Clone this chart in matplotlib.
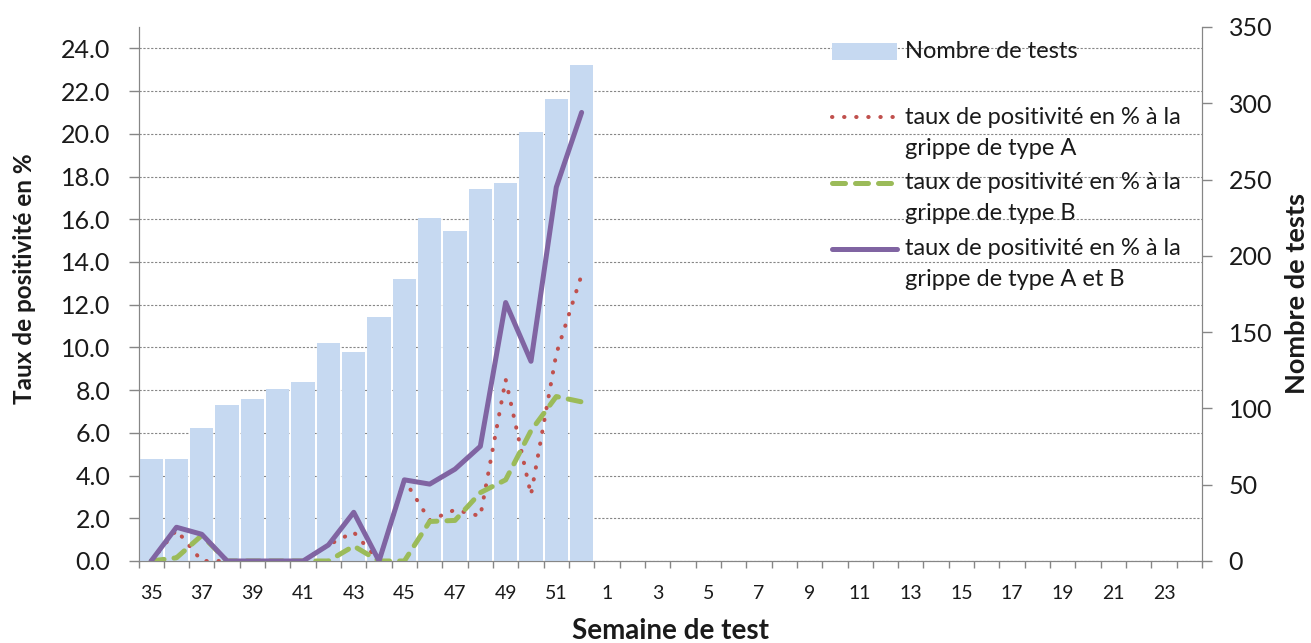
import matplotlib
matplotlib.use("Agg")
import matplotlib.pyplot as plt
from matplotlib.legend_handler import HandlerLine2D, HandlerPatch
from matplotlib.transforms import Affine2D

plt.rcParams['font.family'] = ['Lato', 'DejaVu Sans']

# ---------- données ----------
semaines = [str(s) for s in list(range(35, 53)) + list(range(1, 25))]
nb_tests = [67, 67, 87, 102, 106, 113, 117, 143, 137, 160, 185, 225, 216, 244, 248, 281, 303, 325]
taux_A = [0, 1.45, 0, 0, 0, 0, 0, 0.75, 1.35, 0, 3.8, 1.9, 2.4, 2.1, 8.5, 3.1, 9.7, 13.4]
taux_B = [0, 0.15, 1.2, 0, 0, 0, 0, 0, 0.7, 0, 0, 1.85, 1.9, 3.2, 3.8, 6.1, 7.7, 7.45]
taux_AB = [0, 1.58, 1.25, 0, 0, 0, 0, 0.75, 2.28, 0, 3.8, 3.6, 4.3, 5.37, 12.1, 9.35, 17.5, 21.0]

lab_tests = "Nombre de tests\n"
lab_A = "taux de positivité en % à la\ngrippe de type A"
lab_B = "taux de positivité en % à la\ngrippe de type B"
lab_AB = "taux de positivité en % à la\ngrippe de type A et B"

GRIS = '#868686'
TXT = '#1a1a1a'
W, H = 1311, 643

x = list(range(len(semaines)))
xn = x[:len(nb_tests)]

fig = plt.figure(figsize=(W / 100, H / 100), dpi=100)
ax = fig.add_axes([138.5 / W, 1 - 561 / H, (1202 - 138.5) / W, (561 - 27) / H])

## axe gauche : taux en %
ax.set_xlim(-0.5, len(semaines) - 0.5)
ax.set_ylim(0, 25)
ax.set_yticks(range(0, 25, 2))
ax.set_yticklabels([f"{v:.1f}" for v in range(0, 25, 2)])
ax.tick_params(axis='y', length=7.2, width=1, color=GRIS, pad=13, labelsize=18, labelcolor=TXT)
ax.set_xticks(x[::2])
ax.set_xticklabels(semaines[::2])
ax.set_xticks([i - 0.5 for i in range(len(semaines) + 1)], minor=True)
ax.tick_params(axis='x', which='major', length=0, pad=17, labelsize=14, labelcolor=TXT)
ax.tick_params(axis='x', which='minor', length=4.8, width=1, color=GRIS)
ax.yaxis.grid(True, linestyle=(0, (2, 1.5)), color=GRIS, linewidth=0.8)
for s in ax.spines.values():
    s.set_color(GRIS)
ax.spines['top'].set_visible(False)

## axe droit : nombre de tests
ax2 = ax.twinx()
barres = ax2.bar(xn, nb_tests, width=0.92, color='#C6D9F1', zorder=1)
ax2.set_ylim(0, 350)
ax2.set_yticks(range(0, 351, 50))
ax2.tick_params(axis='y', length=7.2, width=1, color=GRIS, pad=12, labelsize=18, labelcolor=TXT)
for s in ax2.spines.values():
    s.set_color(GRIS)
ax2.spines['top'].set_visible(False)

## courbes par-dessus les barres
ax3 = ax.twinx()
ax3.set_ylim(0, 25)
ax3.set_axis_off()
lA, = ax3.plot(xn, taux_A, color='#C0504D', lw=2.9, linestyle=(0, (0.1, 2.9)),
               dash_capstyle='round')
lB, = ax3.plot(xn, taux_B, color='#9BBB59', lw=3.6, linestyle=(0, (2.6, 2.0)),
               dash_capstyle='round')
lAB, = ax3.plot(xn, taux_AB, color='#8064A2', lw=3.6, solid_joinstyle='round',
                solid_capstyle='round')


## légende : symbole aligné sur la première ligne du texte
DECAL = 0.66

class LigneHaut(HandlerLine2D):
    def create_artists(self, legend, orig_handle, xdescent, ydescent, width, height, fontsize, trans):
        trans = Affine2D().translate(0, DECAL * fontsize) + trans
        return super().create_artists(legend, orig_handle, xdescent, ydescent, width, height, fontsize, trans)

class PatchHaut(HandlerPatch):
    def create_artists(self, legend, orig_handle, xdescent, ydescent, width, height, fontsize, trans):
        trans = Affine2D().translate(0, DECAL * fontsize) + trans
        return super().create_artists(legend, orig_handle, xdescent, ydescent, width, height, fontsize, trans)

poignees = [barres.patches[0], lA, lB, lAB]
handler_map = {barres.patches[0]: PatchHaut(), lA: LigneHaut(), lB: LigneHaut(), lAB: LigneHaut()}
leg = ax3.legend(poignees, [lab_tests, lab_A, lab_B, lab_AB], loc='upper left',
                 bbox_to_anchor=(0.652, 0.974),
                 frameon=False, fontsize=17, borderpad=0, borderaxespad=0,
                 handlelength=2.75, handletextpad=0.35, labelspacing=0.57,
                 handler_map=handler_map)
for t in leg.get_texts():
    t.set_linespacing(1.6)
    t.set_color(TXT)

## titres des axes
fig.text(25 / W, 1 - 279 / H, "Taux de positivité en %", rotation=90, ha='center', va='center',
         fontsize=17.5, fontweight='bold', color=TXT)
fig.text(670 / W, 1 - 631 / H, "Semaine de test", ha='center', va='center',
         fontsize=20, fontweight='bold', color=TXT)
fig.text(1297 / W, 1 - 293 / H, "Nombre de tests", rotation=90, ha='center', va='center',
         fontsize=19.5, fontweight='bold', color=TXT)

fig.savefig("out.png", dpi=100)
